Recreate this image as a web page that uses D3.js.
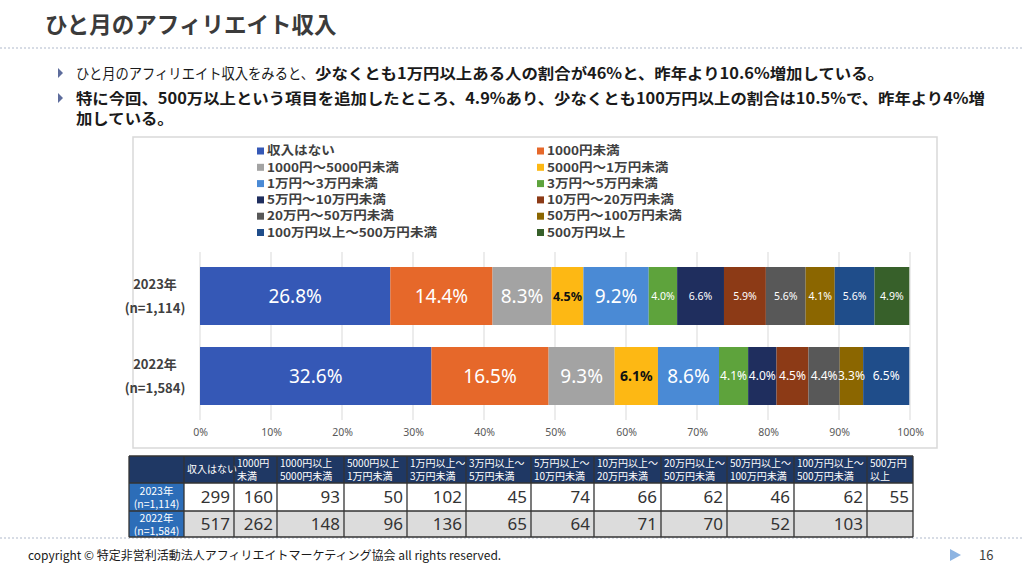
<!DOCTYPE html>
<html><head><meta charset="utf-8">
<script src="https://cdn.jsdelivr.net/npm/d3@7"></script>
<style>
html,body{margin:0;padding:0;background:#fff;}
svg{display:block;font-family:"Noto Sans CJK JP","Noto Sans",sans-serif;}
</style></head>
<body><svg id="c" width="1024" height="576"></svg>
<script>
// ---------- data ----------
const categories = ["2023年", "2022年"];
const sampleSizes = ["(n=1,114)", "(n=1,584)"];
const seriesNames = ["収入はない","1000円未満","1000円～5000円未満","5000円～1万円未満","1万円～3万円未満","3万円～5万円未満","5万円～10万円未満","10万円～20万円未満","20万円～50万円未満","50万円～100万円未満","100万円以上～500万円未満","500万円以上"];
const share2023 = [26.8,14.4,8.3,4.5,9.2,4.0,6.6,5.9,5.6,4.1,5.6,4.9];
const share2022 = [32.6,16.5,9.3,6.1,8.6,4.1,4.0,4.5,4.4,3.3,6.5,0];
const seriesColors = ["#3558B6","#E6682A","#A3A3A3","#FDB814","#4A8AD5","#5EA33C","#1F2E5E","#8C3A16","#585858","#8B6600","#1F4D8A","#37602A"];
const xTicks = [0,10,20,30,40,50,60,70,80,90,100];
const tableHeaders = [["収入はない"],["1000円","未満"],["1000円以上","5000円未満"],["5000円以上","1万円未満"],["1万円以上～","3万円未満"],["3万円以上～","5万円未満"],["5万円以上～","10万円未満"],["10万円以上～","20万円未満"],["20万円以上～","50万円未満"],["50万円以上～","100万円未満"],["100万円以上～","500万円未満"],["500万円","以上"]];
const counts2023 = [299,160,93,50,102,45,74,66,62,46,62,55];
const counts2022 = [517,262,148,96,136,65,64,71,70,52,103,null];

const shares = [share2023, share2022];
const counts = [counts2023, counts2022];

const svg = d3.select("#c");
svg.append("rect").attr("width",1024).attr("height",576).attr("fill","#fff");

// ---------- header ----------
svg.append("text").attr("x",45).attr("y",33).attr("font-size",22.5).attr("font-weight",700)
  .attr("fill","#3B3B3B").text("ひと月のアフィリエイト収入");
svg.append("line").attr("x1",0).attr("x2",1024).attr("y1",48).attr("y2",48)
  .attr("stroke","#AFBACB").attr("stroke-width",1.2).attr("stroke-dasharray","2,2");

function bullet(y){
  svg.append("path").attr("d",`M${58},${y-5}L${63},${y}L${58},${y+5}Z`).attr("fill","#5D6C9C");
}
bullet(73); bullet(98);
function fitText(xp, yp, str, fs, bold, xEnd){
  const t = svg.append("text").attr("x",xp).attr("y",yp).attr("font-size",fs)
    .attr("font-weight",bold?700:400).attr("fill","#1a1a1a").text(str);
  if (xEnd!=null) t.attr("textLength",xEnd-xp).attr("lengthAdjust","spacingAndGlyphs");
  return t;
}
fitText(76,79,"ひと月のアフィリエイト収入をみると、",14.5,false,314);
fitText(315,79,"少なくとも1万円以上ある人の割合が46%と、昨年より10.6%増加している。",15.2,true,884);
const l2 = fitText(76,104,"特に今回、500万以上という項目を追加したところ、4.9%あり、少なくとも100万円以上の割合は10.5%で、昨年より4%増",15.2,true,null);
const ratio = (985-76)/l2.node().getComputedTextLength();
l2.attr("textLength",985-76).attr("lengthAdjust","spacingAndGlyphs");
const l3 = fitText(76,124,"加している。",15.2,true,null);
l3.attr("textLength",l3.node().getComputedTextLength()*ratio).attr("lengthAdjust","spacingAndGlyphs");

// ---------- chart frame ----------
svg.append("rect").attr("x",133).attr("y",137).attr("width",804).attr("height",311)
  .attr("fill","#fff").attr("stroke","#D9D9D9").attr("stroke-width",1.5);

// legend
const legend = svg.append("g");
seriesNames.forEach((name,i)=>{
  const col = i%2, row = Math.floor(i/2);
  const x = col===0 ? 257 : 537;
  const y = 151 + row*16.3;
  legend.append("rect").attr("x",x).attr("y",y-3.5).attr("width",7).attr("height",7).attr("fill",seriesColors[i]);
  const t = legend.append("text").attr("x",x+10).attr("y",y).attr("dy","0.35em").attr("font-size",12).attr("font-weight",700)
    .attr("fill","#404040").text(name);
  const L = t.node().getComputedTextLength();
  t.attr("textLength",L*1.13).attr("lengthAdjust","spacingAndGlyphs");
});

// scales
const x = d3.scaleLinear().domain([0,100]).range([200,910]);
const y = d3.scaleBand().domain(categories).range([252,420]).paddingInner(0.275).paddingOuter(0.1875);

// gridlines
svg.append("g").selectAll("line").data(xTicks).join("line")
  .attr("x1",d=>x(d)).attr("x2",d=>x(d)).attr("y1",252).attr("y2",420)
  .attr("stroke","#D9D9D9").attr("stroke-width",1);

// axis labels
const ax = svg.append("g").attr("transform","translate(0,420)")
  .call(d3.axisBottom(x).tickValues(xTicks).tickFormat(d=>d+"%").tickSize(0).tickPadding(9));
ax.select(".domain").remove();
ax.selectAll("text").attr("font-size",10.5).attr("fill","#595959").attr("font-family","Noto Sans, sans-serif");

// stacked bars
const rows = categories.map((c,ci)=>{
  const o = {cat:c};
  seriesNames.forEach((s,si)=>o[s]=shares[ci][si]);
  return o;
});
const stack = d3.stack().keys(seriesNames)(rows);
const bars = svg.append("g");
stack.forEach((layer,si)=>{
  layer.forEach(seg=>{
    const w = x(seg[1])-x(seg[0]);
    if (w<=0) return;
    const cat = seg.data.cat;
    bars.append("rect").attr("x",x(seg[0])).attr("y",y(cat)).attr("width",w).attr("height",y.bandwidth())
      .attr("fill",seriesColors[si]);
  });
});
stack.forEach((layer,si)=>{
  layer.forEach(seg=>{
    const v = seg[1]-seg[0];
    if (v<=0) return;
    const cat = seg.data.cat;
    const big = v>=8;
    const yellow = si===3;
    let fs = big ? 19 : (cat==="2022年" ? 12 : 10.5);
    if (yellow) fs = cat==="2022年" ? 14 : 12.5;
    bars.append("text").attr("x",(x(seg[0])+x(seg[1]))/2).attr("y",y(cat)+y.bandwidth()/2)
      .attr("dy","0.36em").attr("text-anchor","middle")
      .attr("font-family","Noto Sans, sans-serif")
      .attr("font-size",fs).attr("font-weight",yellow?700:400)
      .attr("fill",yellow?"#111":"#fff")
      .text(v.toFixed(1)+"%");
  });
});

// category labels
categories.forEach((c,i)=>{
  const cy = y(c)+y.bandwidth()/2;
  svg.append("text").attr("x",155).attr("y",cy-12).attr("dy","0.35em").attr("text-anchor","middle")
    .attr("font-size",13).attr("font-weight",700).attr("fill","#404040").text(c);
  svg.append("text").attr("x",155).attr("y",cy+12).attr("dy","0.35em").attr("text-anchor","middle")
    .attr("font-size",13).attr("font-weight",700).attr("fill","#404040").text(sampleSizes[i]);
});

// ---------- bottom dotted line ----------
svg.append("line").attr("x1",0).attr("x2",1024).attr("y1",538).attr("y2",538)
  .attr("stroke","#AFBACB").attr("stroke-width",1.2).attr("stroke-dasharray","2,2");

// ---------- table ----------
const colEdges = [129,184,234,277,344,407,466,531,594,661,727,794,867,913];
const rowEdges = [456,483,511,537];
const tg = svg.append("g");
tg.append("rect").attr("x",colEdges[0]).attr("y",rowEdges[0]).attr("width",colEdges[13]-colEdges[0]).attr("height",rowEdges[1]-rowEdges[0]).attr("fill","#1F3864");
[0,1].forEach(r=>{
  tg.append("rect").attr("x",colEdges[1]).attr("y",rowEdges[r+1]).attr("width",colEdges[13]-colEdges[1]).attr("height",rowEdges[r+2]-rowEdges[r+1])
    .attr("fill",r===0?"#FFFFFF":"#DCDCDC");
  tg.append("rect").attr("x",colEdges[0]).attr("y",rowEdges[r+1]).attr("width",colEdges[1]-colEdges[0]).attr("height",rowEdges[r+2]-rowEdges[r+1])
    .attr("fill","#2C6DB8");
  const cy = (rowEdges[r+1]+rowEdges[r+2])/2;
  tg.append("text").attr("x",(colEdges[0]+colEdges[1])/2).attr("y",cy-6).attr("dy","0.35em").attr("text-anchor","middle")
    .attr("font-size",10.5).attr("fill","#fff").text(categories[r]);
  tg.append("text").attr("x",(colEdges[0]+colEdges[1])/2).attr("y",cy+7).attr("dy","0.35em").attr("text-anchor","middle")
    .attr("font-size",10.5).attr("fill","#fff").text(sampleSizes[r]);
  counts[r].forEach((v,ci)=>{
    if (v==null) return;
    tg.append("text").attr("x",colEdges[ci+2]-4).attr("y",cy).attr("dy","0.36em").attr("text-anchor","end")
      .attr("font-family","Noto Sans, sans-serif").attr("font-size",17).attr("fill","#333").text(v);
  });
});
tableHeaders.forEach((lines,ci)=>{
  const x0 = colEdges[ci+1]+3;
  const cy = (rowEdges[0]+rowEdges[1])/2;
  lines.forEach((ln,li)=>{
    const yy = lines.length===1 ? cy : cy + (li===0?-6.5:6.5);
    tg.append("text").attr("x",x0).attr("y",yy).attr("dy","0.35em").attr("font-size",10)
      .attr("fill","#fff").text(ln);
  });
});
colEdges.forEach((cx)=>{
  tg.append("line").attr("x1",cx).attr("x2",cx).attr("y1",rowEdges[0]).attr("y2",rowEdges[3])
    .attr("stroke","#333").attr("stroke-width",1.3);
});
rowEdges.forEach((ry)=>{
  tg.append("line").attr("x1",colEdges[0]).attr("x2",colEdges[13]).attr("y1",ry).attr("y2",ry)
    .attr("stroke","#333").attr("stroke-width",1.3);
});

// ---------- footer ----------
svg.append("text").attr("x",28).attr("y",560).attr("font-size",12).attr("fill","#1a1a1a")
  .text("copyright © 特定非営利活動法人アフィリエイトマーケティング協会 all rights reserved.");
svg.append("path").attr("d","M950,549L961,555L950,561Z").attr("fill","#8DB4E2");
svg.append("text").attr("x",979).attr("y",560).attr("font-size",13).attr("fill","#404040").text("16");
</script></body></html>
